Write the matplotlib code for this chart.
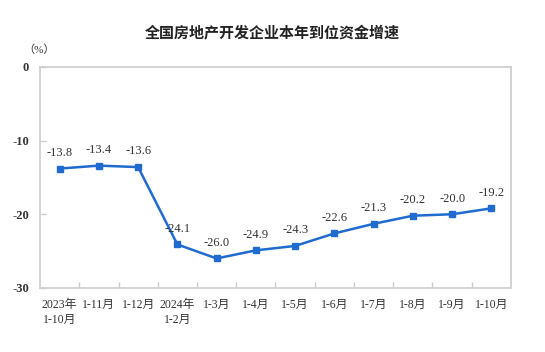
import matplotlib
matplotlib.use('Agg')
import matplotlib.pyplot as plt
import numpy as np

plt.rcParams['font.family'] = ['Liberation Serif', 'Noto Sans CJK SC', 'DejaVu Sans']

# 数据
labels = ['2023年\n1-10月', '1-11月', '1-12月', '2024年\n1-2月', '1-3月', '1-4月',
          '1-5月', '1-6月', '1-7月', '1-8月', '1-9月', '1-10月']
values = [-13.8, -13.4, -13.6, -24.1, -26.0, -24.9, -24.3, -22.6, -21.3, -20.2, -20.0, -19.2]
yticks = [0, -10, -20, -30]

fig = plt.figure(figsize=(5.45, 3.52), dpi=100)
ax = fig.add_axes([0.0734, 0.182, 0.8642, 0.628])

x = np.arange(len(values))
ax.plot(x, values, color='#1f6bd0', lw=1.8, marker='s', ms=4.2, zorder=3)
for xi, v in zip(x, values):
    ax.annotate('%.1f' % v, (xi, v), xytext=(0, 7), textcoords='offset points',
                ha='center', va='bottom', fontsize=9, color='#333333')

ax.set_xlim(-0.5, len(values) - 0.5)
ax.set_ylim(-30, 0)
ax.set_yticks(yticks)
ax.set_yticklabels([str(t) for t in yticks], fontsize=9, fontweight='bold', color='#333333')

# x 轴刻度在类别之间
ax.set_xticks(np.arange(0.5, len(values) - 0.5), minor=False)
ax.set_xticklabels([])
ax.set_xticks(x, minor=True)
ax.set_xticklabels(labels, minor=True, fontsize=8.5, color='#333333', linespacing=1.3)
ax.tick_params(axis='x', which='major', direction='in', length=4, color='#cccccc', width=1)
ax.tick_params(axis='x', which='minor', length=0, pad=8)
ax.tick_params(axis='y', direction='in', length=4, color='#cccccc', width=1, pad=8)

for s in ax.spines.values():
    s.set_color('#d0d0d0')
    s.set_linewidth(1.3)

fig.text(0.5, 0.905, '全国房地产开发企业本年到位资金增速', ha='center', va='center',
         fontsize=10.8, fontweight='bold', color='#222222')
fig.text(0.072, 0.86, '（%）', ha='center', va='center', fontsize=8, color='#333333')

fig.savefig('out.png', dpi=100)
